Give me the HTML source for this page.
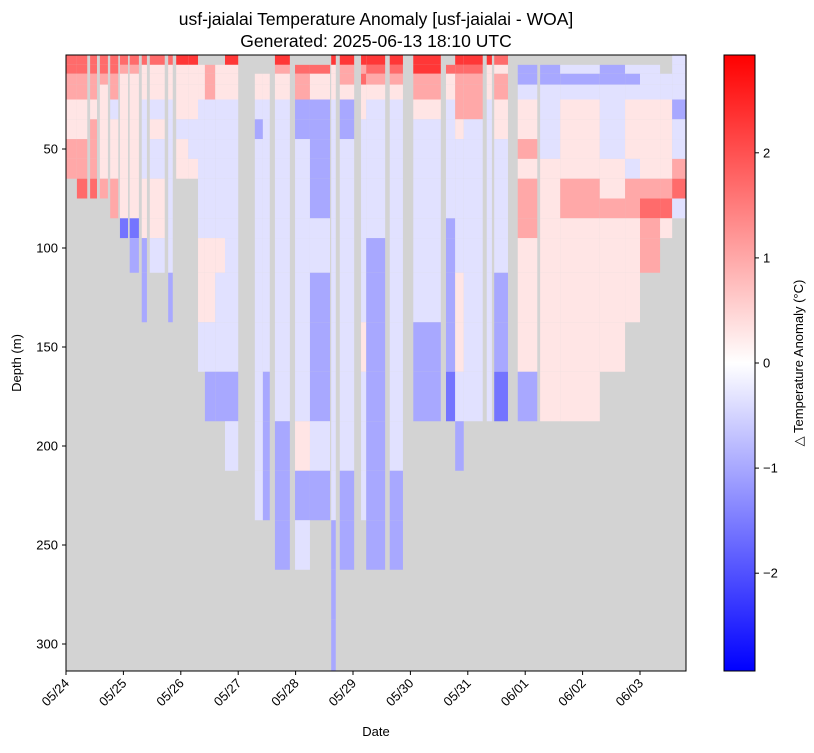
<!DOCTYPE html>
<html><head><meta charset="utf-8"><style>
body{margin:0;background:#fff;font-family:"Liberation Sans",sans-serif;}
svg text{font-family:"Liberation Sans","DejaVu Sans",sans-serif;fill:#000;}
</style></head><body>
<svg id="c" width="814" height="748" xmlns="http://www.w3.org/2000/svg">
<defs><linearGradient id="cb" x1="0" y1="1" x2="0" y2="0">
<stop offset="0" stop-color="#0000ff"/><stop offset="0.5" stop-color="#ffffff"/><stop offset="1" stop-color="#ff0000"/></linearGradient></defs>
<text x="376" y="25" font-size="17.5" text-anchor="middle">usf-jaialai Temperature Anomaly [usf-jaialai - WOA]</text>
<text x="376" y="47" font-size="17.5" text-anchor="middle">Generated: 2025-06-13 18:10 UTC</text>
<rect x="66" y="55" width="620" height="616" fill="#d3d3d3"/>
<g id="cells"></g>
<rect x="66" y="55" width="620" height="616" fill="none" stroke="#000" stroke-width="1"/>
<g id="axes"></g>
<text x="376" y="736" font-size="13" text-anchor="middle">Date</text>
<text x="21" y="363" font-size="13" text-anchor="middle" transform="rotate(-90 21 363)">Depth (m)</text>
<rect x="724" y="55" width="31" height="616" fill="url(#cb)" stroke="#000" stroke-width="1"/>
<text x="803" y="363" font-size="13" text-anchor="middle" transform="rotate(-90 803 363)">△ Temperature Anomaly (°C)</text>
</svg>
<script>
const depthEdges=[2.5,7.5,12,17.5,25,35,45,55,65,75,85,95,112.5,137.5,162.5,187.5,212.5,237.5,262.5,287.5,313.6];
const colStart=[0,0.19,0.42,0.59,0.77,0.94,1.11,1.32,1.46,1.78,1.92,2.13,2.30,2.42,2.60,2.77,3.29,3.43,3.64,3.99,4.25,4.62,4.77,5.14,5.23,5.64,6.05,6.62,6.78,6.93,7.33,7.46,7.87,8.26,8.61,9.30,9.74,10.00,10.35,10.56];
const colEnd=[0.19,0.37,0.54,0.73,0.91,1.08,1.27,1.41,1.72,1.86,2.13,2.30,2.42,2.60,2.77,3.00,3.43,3.55,3.90,4.25,4.60,4.70,5.02,5.23,5.56,5.87,6.53,6.78,6.93,7.26,7.42,7.70,8.21,8.61,9.30,9.74,10.00,10.35,10.56,10.80];
const colCodes=["rrppqqpp","rrppqqppr","rrppqpppr","rrpqqqqqp","rrpplqqqpp","rpqqqqqqqqB","rpqqqqqqqqBb","rqqqllllqqqbb","rqqqlqllqqql","rqqqllllllllb","Rqqqqlqq","Rqqqqllq",".qqqlllllllqql",".ppplllllllqqlb",".qqqlllllllqllb","Rqqqllllllllllbl","..qqlblllllllllll","..qqllllllllllbbb","Rpqqlllllllllllbbb",".rppbblllllllllqbl",".rqqbbbbbbllbbblb","Rqqqlllllllllllllbbb","Rppqbbllllllllllbb","Rprqqllllllllqlll","Rrpqlllllllbbbbbbb","Rrpqllllllllllllbb","RRppqllllllllbb",".rqqllllllbbbbB","Rrpppqllllllqqlb","Rrpppllllllllll","Rqqqlllllllllll","rqppqqllllllbbB",".bblqqpqpppqqqb",".bbllllqqqqqqqq",".lblqqqqppqqqqq",".bbllllqqpqqqq",".lblqqqlppqqq",".lllqqqqprpp","..llqqqqprq","llllbllprl"];
const codeValue={R:2.3,r:1.7,p:1.0,q:0.3,l:-0.35,b:-1.0,B:-1.6};
const yTicks=[50,100,150,200,250,300];
const xTickLabels=["05/24","05/25","05/26","05/27","05/28","05/29","05/30","05/31","06/01","06/02","06/03"];
const cbTicks=[-2,-1,0,1,2];
const VMAX=2.93;
const X=d=>66+d*57.4, Y=z=>50+z*1.98, CBY=v=>363-v*105.1;
function color(v){const t=(v+VMAX)/(2*VMAX);let r,g,b;
 if(t<0.5){r=g=2*t;b=1;}else{r=1;g=b=2*(1-t);}
 return `rgb(${Math.round(r*255)},${Math.round(g*255)},${Math.round(b*255)})`;}
const NS="http://www.w3.org/2000/svg";
const cells=document.getElementById('cells');
colCodes.forEach((codes,i)=>{
 for(let k=0;k<codes.length;k++){const ch=codes[k];if(!(ch in codeValue))continue;
  const r=document.createElementNS(NS,'rect');
  
  
  const x0=X(colStart[i]),x1=X(colEnd[i]),y0=Y(depthEdges[k]),y1=Y(depthEdges[k+1]);
  r.setAttribute('x',x0);r.setAttribute('y',y0);r.setAttribute('width',x1-x0);r.setAttribute('height',y1-y0);
  r.setAttribute('fill',color(codeValue[ch]));cells.appendChild(r);}
});
const ax=document.getElementById('axes');
function add(tag,attrs,txt){const e=document.createElementNS(NS,tag);for(const k in attrs)e.setAttribute(k,attrs[k]);if(txt!==undefined)e.textContent=txt;ax.appendChild(e);return e;}
yTicks.forEach(v=>{const y=Y(v);
 const l=add('line',{x1:62,x2:66,y1:y,y2:y,stroke:'#000'});
 
 
 const t=add('text',{x:58,y:y+4.5,'font-size':13,'text-anchor':'end'},v);
 
 });
xTickLabels.forEach((s,i)=>{const x=X(i);
 const l=add('line',{x1:x,x2:x,y1:671,y2:675,stroke:'#000'});
 
 
 const t=add('text',{x:x+4,y:684,'font-size':13,'text-anchor':'end',transform:`rotate(-45 ${x+4} 684)`},s);
 
 });
cbTicks.forEach(v=>{const y=CBY(v);
 const l=add('line',{x1:755,x2:759,y1:y,y2:y,stroke:'#000'});
 
 
 const t=add('text',{x:763,y:y+4.5,'font-size':13},v<0?'−'+(-v):String(v));
 
 });
</script>
</body></html>
